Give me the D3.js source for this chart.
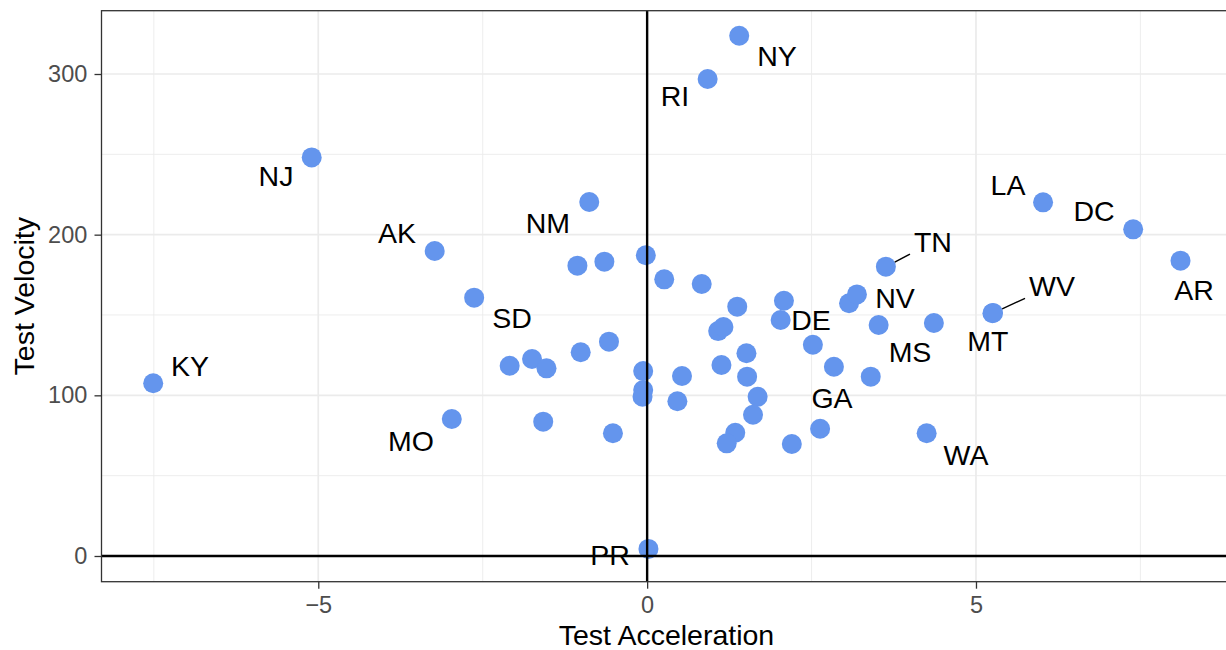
<!DOCTYPE html>
<html>
<head>
<meta charset="utf-8">
<script src="https://cdn.jsdelivr.net/npm/d3@7"></script>
<style>
  body { margin: 0; background: #fff; }
  text { font-family: "Liberation Sans", Arial, Helvetica, sans-serif; }
</style>
</head>
<body>
<svg id="chart" width="1226" height="650"></svg>
<script>
// points: state ("" = no label), acceleration, velocity
const pointState = ["NJ", "NY", "RI", "NM", "AK", "SD", "", "", "", "", "", "", "", "DE", "", "", "", "NV",
  "TN", "LA", "DC", "AR", "MT", "WV", "MS", "", "", "", "", "WA", "KY", "", "", "", "", "", "", "", "",
  "MO", "", "", "", "", "", "", "", "", "", "", "", "", "GA", "PR"];
const accel = [-5.10, 1.40, 0.92, -0.88, -3.23, -2.63, -1.06, -0.65, -0.02, 0.26, 0.83, 1.37, 2.08, 2.03, 1.08, 1.16, 3.07, 3.19,
  3.63, 6.02, 7.39, 8.11, 5.25, 5.26, 3.52, 4.36, 2.52, 2.84, 3.40, 4.25, -7.51, -2.09, -1.75, -1.53, -1.01, -0.58, -0.06, -0.06, -0.07,
  -2.97, -1.58, -0.52, 0.53, 0.46, 1.13, 1.51, 1.52, 1.68, 1.61, 1.34, 1.21, 2.20, 2.63, 0.02];
const velocity = [248.1, 323.8, 296.9, 220.3, 189.8, 160.8, 180.7, 183.2, 187.2, 172.2, 169.3, 155.2, 158.9, 146.9, 140.0, 142.5, 157.3, 162.8,
  180.1, 220.1, 203.3, 183.8, 151.1, 151.3, 143.8, 145.0, 131.5, 117.8, 111.6, 76.4, 107.5, 118.4, 122.6, 116.8, 126.8, 133.4, 115.1, 103.3, 99.1,
  85.3, 83.6, 76.4, 112.0, 96.3, 118.9, 126.2, 111.6, 99.1, 87.9, 76.7, 70.1, 69.7, 79.2, 4.4];

// where the repelled labels ended up (data units)
const labelState = ["NY", "RI", "NJ", "NM", "AK", "SD", "KY", "MO", "PR", "LA", "DC", "AR", "TN", "NV", "DE", "MS", "MT", "WV", "GA", "WA"];
const labelAccel = [1.974, 0.423, -5.643, -1.508, -3.803, -2.055, -6.951, -3.591, -0.565, 5.487, 6.794, 8.315, 4.346, 3.769, 2.491, 3.997, 5.182, 6.156, 2.811, 4.848];
const labelVelocity = [311.2, 286.3, 236.5, 207.3, 201.0, 148.1, 118.3, 71.6, 0.6, 230.9, 214.7, 165.6, 195.4, 160.6, 146.9, 127.0, 133.8, 168.0, 98.3, 62.9];

const xTicks = [-5, 0, 5];
const xMinor = [-7.5, -2.5, 2.5, 7.5];
const yTicks = [0, 100, 200, 300];
const yMinor = [50, 150, 250];

const panel = {left: 101.5, top: 10.7, right: 1231.5, bottom: 581.7};
const R = 10;
const LABEL_SIZE = 28.5;

const svg = d3.select("#chart");

const x = d3.scaleLinear().domain([-8.296, 8.885]).range([panel.left, panel.right]);
const y = d3.scaleLinear().domain([-16.0, 339.4]).range([panel.bottom, panel.top]);

// grid
const grid = svg.append("g");
grid.selectAll(".xminor").data(xMinor).enter().append("line")
    .attr("x1", d => x(d)).attr("x2", d => x(d))
    .attr("y1", panel.top).attr("y2", panel.bottom)
    .attr("stroke", "#EBEBEB").attr("stroke-width", 0.9);
grid.selectAll(".yminor").data(yMinor).enter().append("line")
    .attr("y1", d => y(d)).attr("y2", d => y(d))
    .attr("x1", panel.left).attr("x2", panel.right)
    .attr("stroke", "#EBEBEB").attr("stroke-width", 0.9);
grid.selectAll(".xmajor").data(xTicks).enter().append("line")
    .attr("x1", d => x(d)).attr("x2", d => x(d))
    .attr("y1", panel.top).attr("y2", panel.bottom)
    .attr("stroke", "#EBEBEB").attr("stroke-width", 1.7);
grid.selectAll(".ymajor").data(yTicks).enter().append("line")
    .attr("y1", d => y(d)).attr("y2", d => y(d))
    .attr("x1", panel.left).attr("x2", panel.right)
    .attr("stroke", "#EBEBEB").attr("stroke-width", 1.7);

// points
const pts = accel.map((a, i) => ({state: pointState[i], a: a, v: velocity[i]}));
svg.append("g").selectAll("circle")
    .data(pts).enter().append("circle")
    .attr("cx", d => x(d.a))
    .attr("cy", d => y(d.v))
    .attr("r", R)
    .attr("fill", "#6495ED");

// labels
const labs = labelState.map((s, i) => ({state: s, a: labelAccel[i], v: labelVelocity[i]}));
const segG = svg.append("g");
const texts = svg.append("g").selectAll("text")
    .data(labs).enter().append("text")
    .attr("x", d => x(d.a))
    .attr("y", d => y(d.v))
    .attr("dy", "0.35em")
    .attr("text-anchor", "middle")
    .attr("font-size", LABEL_SIZE)
    .attr("fill", "#000")
    .text(d => d.state);

// segments, only for labels that got pushed well away from their point
texts.each(function (d) {
    const p = pts.find(q => q.state === d.state);
    if (!p) return;
    const w = this.getComputedTextLength();
    const pad = 4;
    const cx = x(d.a), cy = y(d.v);
    const half = LABEL_SIZE * 0.36;
    const bx1 = cx - w / 2 - pad, bx2 = cx + w / 2 + pad;
    const by1 = cy - half - pad, by2 = cy + half + pad;
    const px = x(p.a), py = y(p.v);
    const dx = cx - px, dy = cy - py;
    let tx = 0, ty = 0;
    if (dx !== 0) tx = Math.min((bx1 - px) / dx, (bx2 - px) / dx);
    if (dy !== 0) ty = Math.min((by1 - py) / dy, (by2 - py) / dy);
    const t = Math.max(tx, ty);
    if (t <= 0) return;
    const ex = px + dx * t, ey = py + dy * t;
    const len = Math.hypot(ex - px, ey - py);
    if (len < 21) return;
    const ux = (ex - px) / len, uy = (ey - py) / len;
    segG.append("line")
        .attr("x1", px + ux * R).attr("y1", py + uy * R)
        .attr("x2", ex).attr("y2", ey)
        .attr("stroke", "#000").attr("stroke-width", 1.4);
});

// zero lines
svg.append("line")
    .attr("x1", panel.left).attr("x2", panel.right)
    .attr("y1", y(0)).attr("y2", y(0))
    .attr("stroke", "#000").attr("stroke-width", 2.4);
svg.append("line")
    .attr("x1", x(0)).attr("x2", x(0))
    .attr("y1", panel.top).attr("y2", panel.bottom)
    .attr("stroke", "#000").attr("stroke-width", 2.4);

// panel border
svg.append("rect")
    .attr("x", panel.left).attr("y", panel.top)
    .attr("width", panel.right - panel.left)
    .attr("height", panel.bottom - panel.top)
    .attr("fill", "none")
    .attr("stroke", "#333333")
    .attr("stroke-width", 1.3);

// axes
const xAxis = svg.append("g")
    .attr("transform", `translate(0,${panel.bottom})`)
    .call(d3.axisBottom(x).tickValues(xTicks).tickSize(7).tickPadding(7.6));
const yAxis = svg.append("g")
    .attr("transform", `translate(${panel.left},0)`)
    .call(d3.axisLeft(y).tickValues(yTicks).tickSize(7).tickPadding(7.2));
[xAxis, yAxis].forEach(g => {
    g.select(".domain").remove();
    g.selectAll(".tick line").attr("stroke", "#333333").attr("stroke-width", 1.3);
    g.selectAll(".tick text")
        .attr("fill", "#4D4D4D")
        .attr("font-size", 23.5)
        .attr("font-family", "'Liberation Sans', Arial, sans-serif");
});

// titles
svg.append("text")
    .attr("x", (panel.left + panel.right) / 2)
    .attr("y", 645)
    .attr("text-anchor", "middle")
    .attr("font-size", 28.5)
    .attr("fill", "#000")
    .text("Test Acceleration");
svg.append("text")
    .attr("transform", `translate(33.5,${(panel.top + panel.bottom) / 2}) rotate(-90)`)
    .attr("text-anchor", "middle")
    .attr("font-size", 28.5)
    .attr("fill", "#000")
    .text("Test Velocity");
</script>
</body>
</html>
